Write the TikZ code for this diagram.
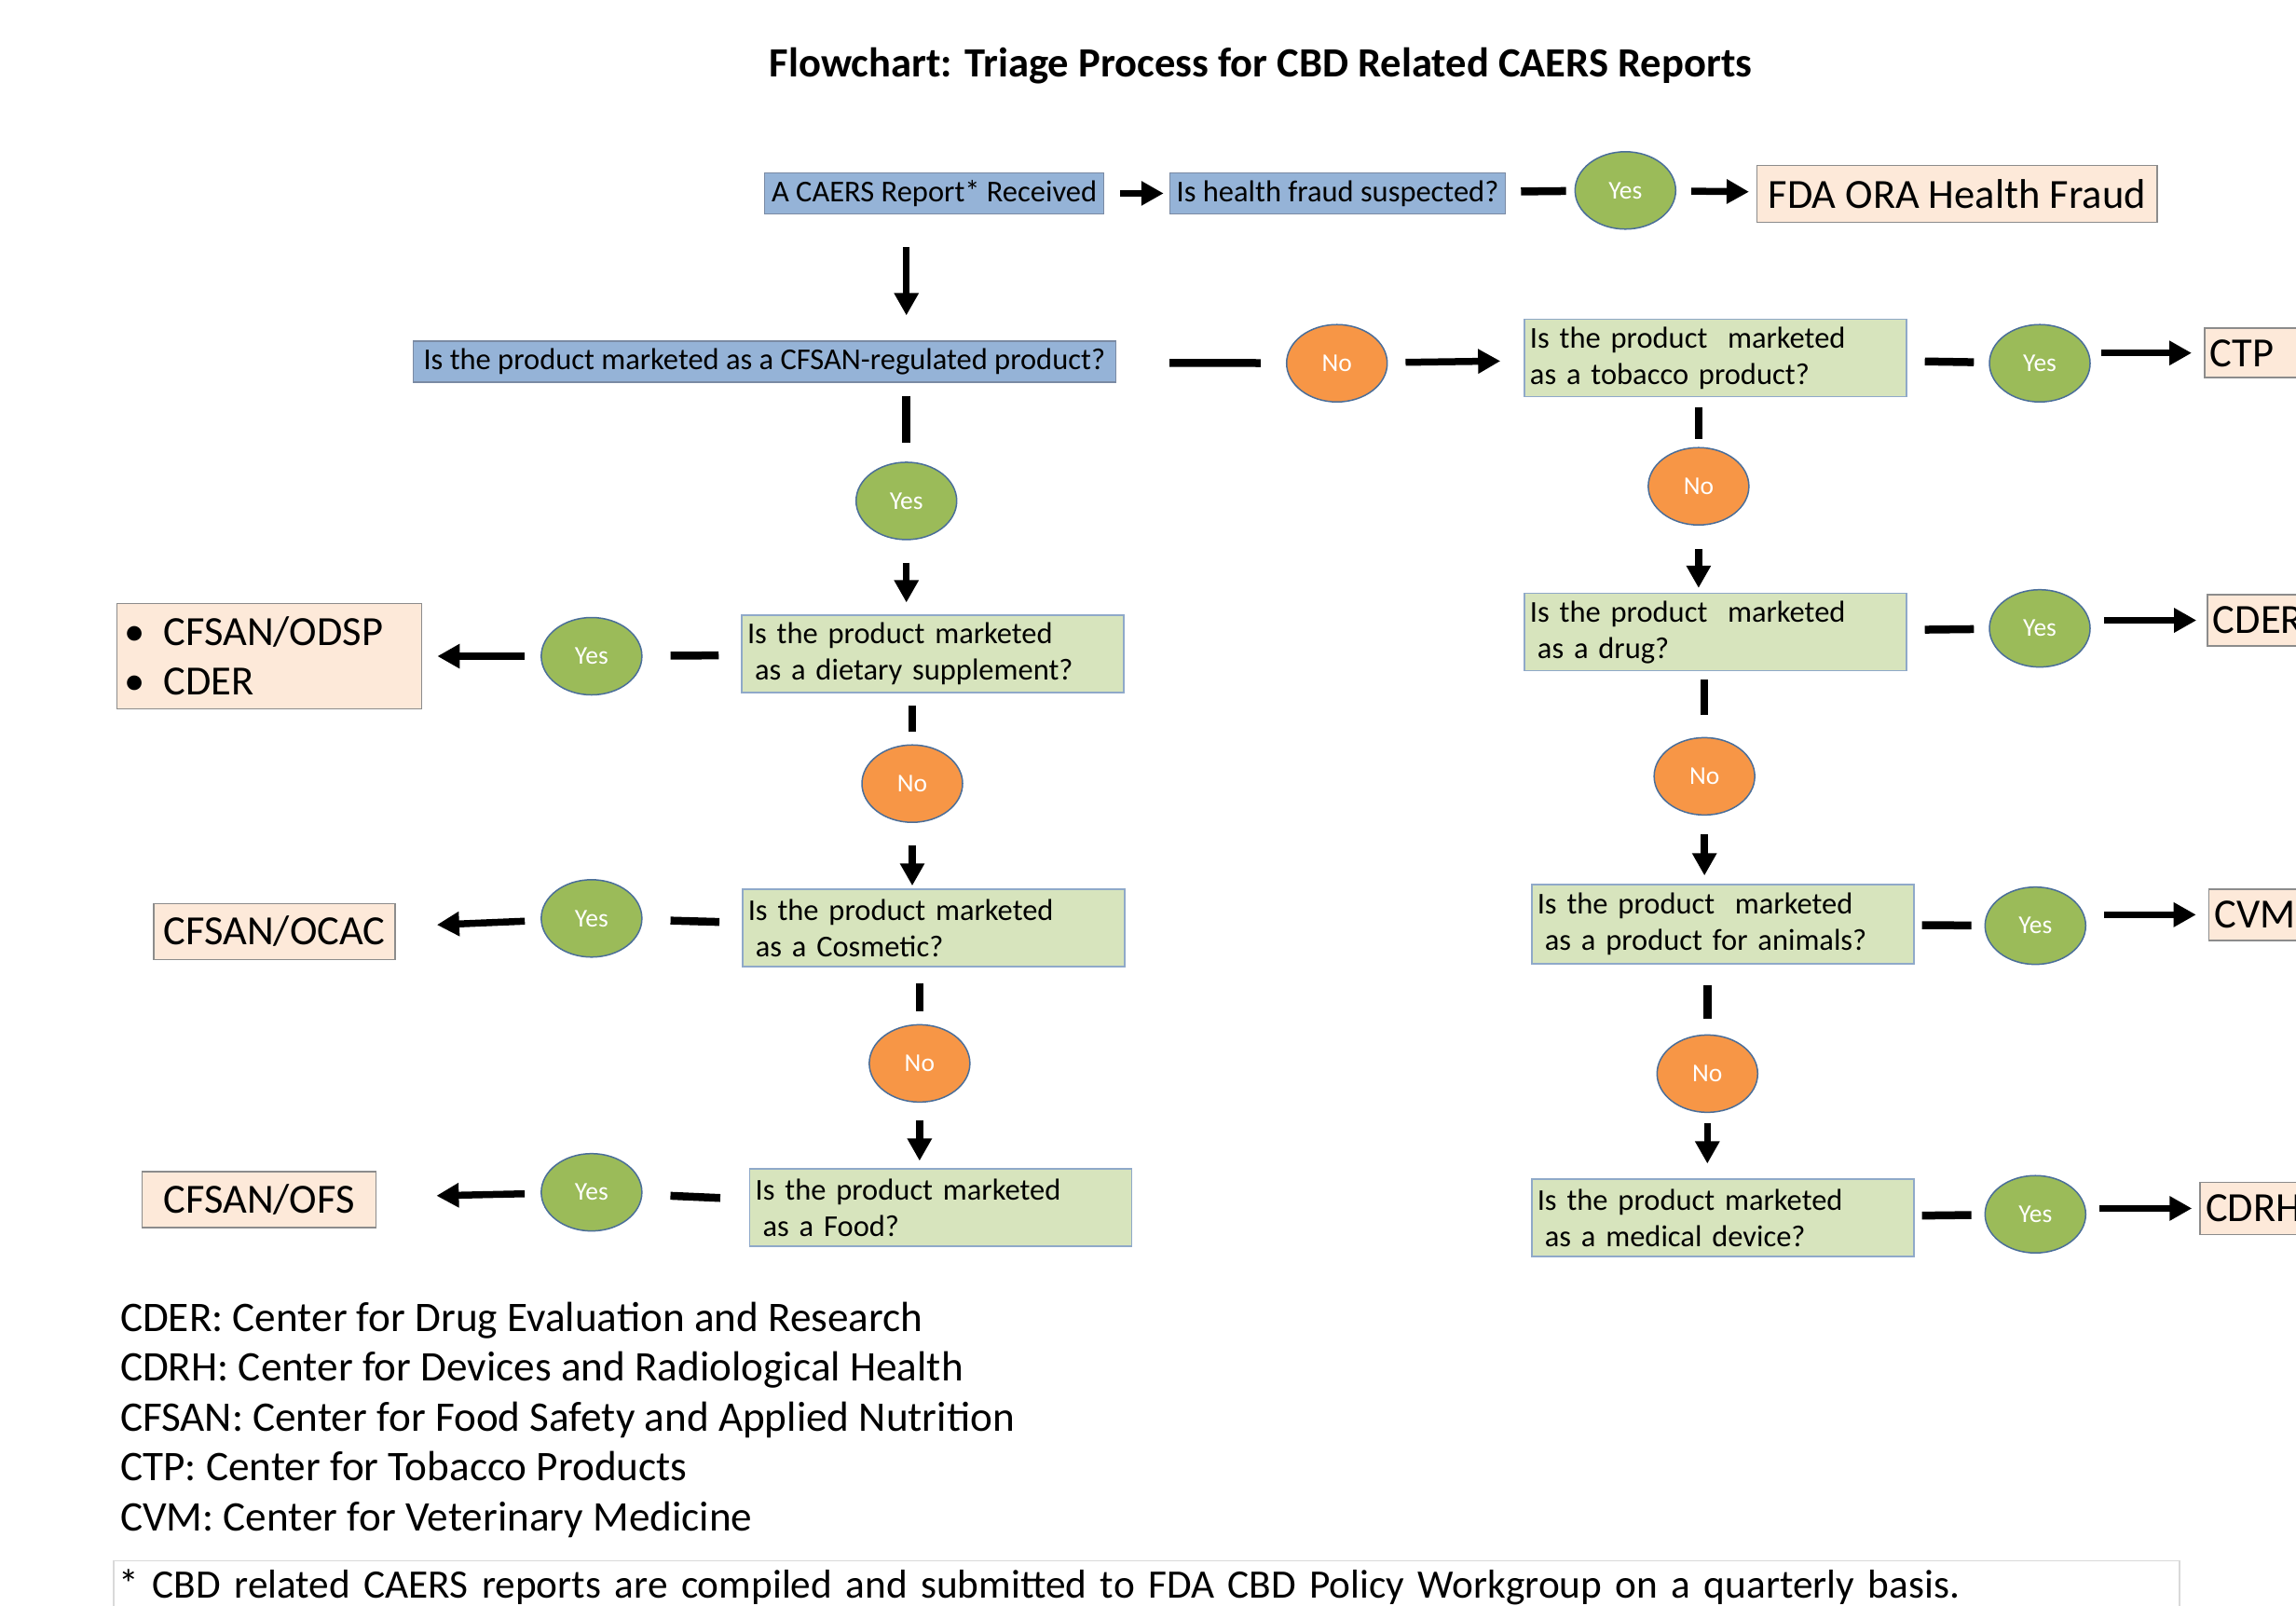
\documentclass[tikz,border=0pt]{standalone}
\usepackage{fontspec}
\setmainfont{Carlito}
\usetikzlibrary{arrows.meta,shapes.geometric,calc}
\definecolor{bluefill}{HTML}{95B3D7}
\definecolor{bluebd}{HTML}{7A8AA3}
\definecolor{greenfill}{HTML}{D7E4BD}
\definecolor{greenbd}{HTML}{8FA9C9}
\definecolor{peachfill}{HTML}{FDE9D9}
\definecolor{peachbd}{HTML}{8C8C8C}
\definecolor{yesfill}{HTML}{9BBB59}
\definecolor{nofill}{HTML}{F79646}
\definecolor{ellbd}{HTML}{4A6E99}
\definecolor{footbd}{HTML}{D9D9D9}
\newcommand\fntq{\fontsize{32.5pt}{39pt}\selectfont}
\newcommand\fntbig{\fontsize{44.5pt}{53pt}\selectfont}
\newcommand\fntleg{\fontsize{45.2pt}{53pt}\selectfont}
\newcommand\fntfoot{\fontsize{43.3pt}{52pt}\selectfont}
\newcommand\fntell{\fontsize{27.5pt}{33pt}\selectfont}
\newcommand\fnttitle{\bfseries\fontsize{44.6pt}{53pt}\selectfont}
\tikzset{
  qblue/.style={draw=bluebd, line width=1.5pt, fill=bluefill, font=\fntq, inner sep=0pt, minimum height=44pt},
  qgreen/.style={draw=greenbd, line width=1.5pt, fill=greenfill, font=\fntq, minimum width=410pt, minimum height=83pt, text width=398pt, align=left, inner xsep=6pt},
  dest/.style={draw=peachbd, line width=1.5pt, fill=peachfill, font=\fntbig, inner sep=0pt},
  destr/.style={dest, anchor=west, minimum width=250pt, minimum height=55pt, text width=238pt, align=left, inner xsep=6pt},
  yesnode/.style={ellipse, draw=ellbd, line width=1.5pt, fill=yesfill, text=white, minimum width=108pt, minimum height=83pt, inner sep=0pt, font=\fntell},
  nonode/.style={yesnode, fill=nofill},
  seg/.style={line width=8.5pt},
  arr/.style={line width=7.5pt, -{Triangle[length=24pt,width=25pt]}},
  legend/.style={anchor=base west, inner sep=0pt, font=\fntleg},
}
\begin{document}
\begin{tikzpicture}[x=1.5714pt, y=-1.5714pt]
\useasboundingbox (0,0) rectangle (1568,1096);
\clip (0,0) rectangle (1568,1096);
\fill[white] (0,0) rectangle (1568,1096);

\node[font=\fnttitle] (title) at (861,45) {Flowchart: Triage Process for CBD Related CAERS Reports};

% top row
\node[qblue, minimum width=364pt] (a) at (638,132) {A CAERS Report* Received};
\node[qblue, minimum width=360pt] (b) at (913.5,132) {Is health fraud suspected?};
\node[yesnode] (y1) at (1110,130) {Yes};
\node[dest, minimum width=429pt, minimum height=61pt] (c) at (1336.5,132.5) {FDA ORA Health Fraud};

% second row
\node[qblue, minimum width=754pt] (d) at (522,247) {Is the product marketed as a CFSAN-regulated product?};
\node[nonode] (n1) at (913,248) {No};
\node[qgreen] (e) at (1171.5,244.5) {Is the product\ \ marketed\\as a tobacco product?};
\node[yesnode] (y2) at (1393,248) {Yes};
\node[destr, minimum height=53pt] (f) at (1505,241) {CTP};

% left column
\node[yesnode] (y3) at (619,342) {Yes};
\node[qgreen] (g) at (637,446.5) {Is the product marketed\\\hspace*{8pt}as a dietary supplement?};
\node[yesnode] (y4) at (404,448) {Yes};
\node[dest, minimum width=327pt, minimum height=113pt, text width=311pt, align=left, inner xsep=8pt] (h) at (184,448) {\makebox[42pt][l]{•}CFSAN/ODSP\\\makebox[42pt][l]{•}CDER};
\node[nonode] (n2) at (623,535) {No};
\node[qgreen] (i) at (637.5,633.5) {Is the product marketed\\\hspace*{8pt}as a Cosmetic?};
\node[yesnode] (y5) at (404,627) {Yes};
\node[dest, minimum width=259pt, minimum height=60pt] (j) at (187.5,636) {CFSAN/OCAC};
\node[nonode] (n3) at (628,726) {No};
\node[qgreen] (k) at (642.5,824.5) {Is the product marketed\\\hspace*{8pt}as a Food?};
\node[yesnode] (y6) at (404,814) {Yes};
\node[dest, minimum width=251pt, minimum height=60pt] (l) at (177,819) {CFSAN/OFS};

% right column
\node[nonode] (n4) at (1160,332) {No};
\node[qgreen] (m) at (1171.5,431.5) {Is the product\ \ marketed\\\hspace*{8pt}as a drug?};
\node[yesnode] (y7) at (1393,429) {Yes};
\node[destr] (nn) at (1507,423.5) {CDER};
\node[nonode] (n5) at (1164,530) {No};
\node[qgreen, minimum height=85pt] (o) at (1176.5,631) {Is the product\ \ marketed\\\hspace*{8pt}as a product for animals?};
\node[yesnode] (y8) at (1390,632) {Yes};
\node[destr] (p) at (1508,624.5) {CVM};
\node[nonode] (n6) at (1166,733) {No};
\node[qgreen] (q) at (1176.5,831.5) {Is the product marketed\\\hspace*{8pt}as a medical device?};
\node[yesnode] (y9) at (1390,829) {Yes};
\node[destr, minimum height=56pt] (r) at (1502,825) {CDRH};

% connectors top
\draw[arr, shorten <=17pt, shorten >=6pt] (a) -- (b);
\draw[seg, shorten <=16pt, shorten >=9pt] (b) -- (y1);
\draw[arr, shorten <=16pt, shorten >=8pt] (y1) -- (c);
\draw[arr, shorten <=35pt, shorten >=27pt] (a.south -| y3) -- (d.north -| y3);
\draw[seg, shorten <=57pt, shorten >=27pt] (d) -- (n1);
\draw[arr, shorten <=19pt, shorten >=25pt] (n1) -- (e);
\draw[seg, shorten <=19pt, shorten >=16pt] (e) -- (y2);
\draw[arr, shorten <=11pt, shorten >=13pt] (y2.east |- f) -- (f.west);

% connectors left column
\draw[seg, shorten <=14pt, shorten >=20pt] (d.south -| y3) -- (y3.north);
\draw[arr, shorten <=24pt, shorten >=13pt] (y3.south) -- (y3 |- g.north);
\draw[seg, shorten <=13pt, shorten >=13pt] (g.south -| n2) -- (n2.north);
\draw[arr, shorten <=24pt, shorten >=3pt] (n2.south) -- (n2 |- i.north);
\draw[seg, shorten <=17pt, shorten >=14pt] (i.south -| n3) -- (n3.north);
\draw[arr, shorten <=19pt, shorten >=8pt] (n3.south) -- (n3 |- k.north);
\draw[seg, shorten <=24pt, shorten >=30pt] (g) -- (y4);
\draw[arr, shorten <=17pt, shorten >=16pt] (y4) -- (h);
\draw[seg, shorten <=24pt, shorten >=30pt] (i) -- (y5);
\draw[arr, shorten <=17pt, shorten >=44pt] (y5) -- (j);
\draw[seg, shorten <=31pt, shorten >=30pt] (k) -- (y6);
\draw[arr, shorten <=17pt, shorten >=64pt] (y6) -- (l);

% connectors right column
\draw[seg, shorten <=11pt, shorten >=8pt] (e.south -| n4) -- (n4.north);
\draw[arr, shorten <=25pt, shorten >=5pt] (n4.south) -- (n4 |- m.north);
\draw[seg, shorten <=9pt, shorten >=24pt] (m.south -| n5) -- (n5.north);
\draw[arr, shorten <=20pt, shorten >=9pt] (n5.south) -- (n5 |- o.north);
\draw[seg, shorten <=22pt, shorten >=17pt] (o.south -| n6) -- (n6.north);
\draw[arr, shorten <=11pt, shorten >=16pt] (n6.south) -- (n6 |- q.north);
\draw[seg, shorten <=19pt, shorten >=16pt] (m) -- (y7);
\draw[arr, shorten <=14pt, shorten >=11pt] (y7.east |- nn) -- (nn.west);
\draw[seg, shorten <=8pt, shorten >=14pt] (o) -- (y8);
\draw[arr, shorten <=19pt, shorten >=13pt] (y8.east |- p) -- (p.west);
\draw[seg, shorten <=8pt, shorten >=14pt] (q) -- (y9);
\draw[arr, shorten <=14pt, shorten >=8pt] (y9.east |- r) -- (r.west);

% legend
\node[legend] (lg1) at (82,909) {CDER: Center for Drug Evaluation and Research};
\node[legend] (lg2) at (82,943) {CDRH: Center for Devices and Radiological Health};
\node[legend] (lg3) at (82,977) {CFSAN: Center for Food Safety and Applied Nutrition};
\node[legend] (lg4) at (82,1011) {CTP: Center for Tobacco Products};
\node[legend] (lg5) at (82,1045) {CVM: Center for Veterinary Medicine};

% footnote
\node[draw=footbd, line width=1.5pt, anchor=north west, minimum width=2217pt, minimum height=57pt, text width=2205pt, inner xsep=6pt, inner ysep=0pt, align=left, font=\fntfoot] (foot) at (77,1065) {* CBD related CAERS reports are compiled and submitted to FDA CBD Policy Workgroup on a quarterly basis.};
\end{tikzpicture}
\end{document}
